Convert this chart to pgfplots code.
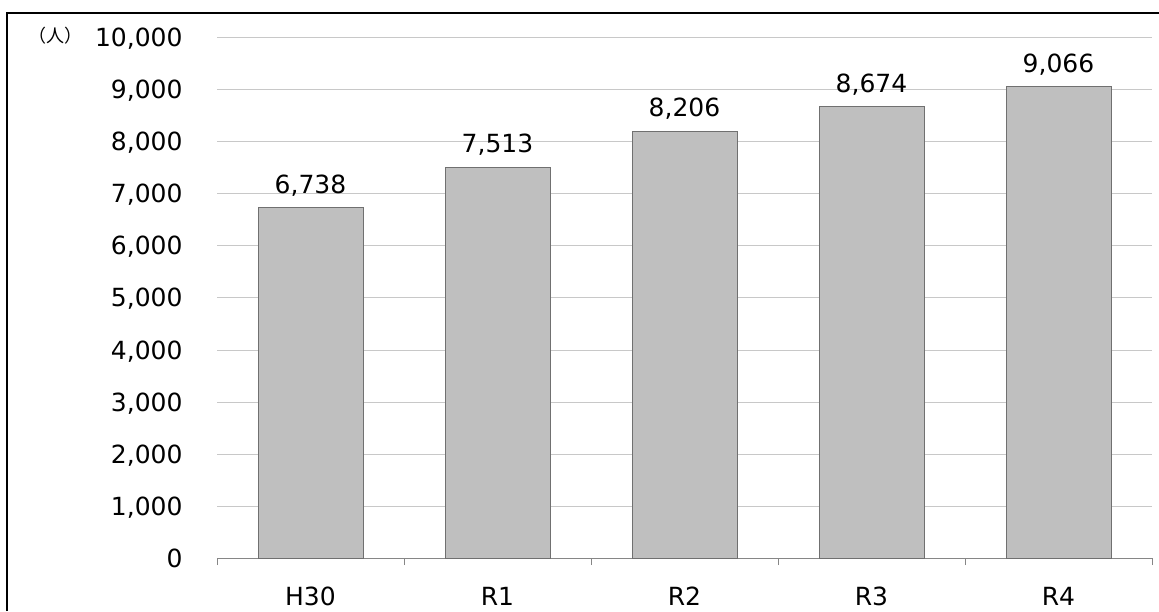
\documentclass[border=0pt]{standalone}
\usepackage{fontspec}
\setmainfont{DejaVu Sans}
\newfontfamily\cjk{Noto Sans CJK JP}
\usepackage{pgfplots}
\pgfplotsset{compat=1.18}

\definecolor{barfill}{HTML}{BFBFBF}
\definecolor{bardraw}{HTML}{707070}
\definecolor{gridc}{HTML}{C8C8C8}
\definecolor{axisc}{HTML}{868686}

\begin{document}
\begin{tikzpicture}[x=1pt,y=1pt]
\useasboundingbox (0,0) rectangle (1159,611);
% frame (top and left edges)
\draw[line width=2pt,black] (7,0) -- (7,598) -- (1159,598);
\node[font=\cjk\fontsize{18}{18}\selectfont,inner sep=0pt] at (55,575) {（人）};

\begin{axis}[
    at={(217pt,53pt)}, anchor=south west,
    scale only axis,
    width=935pt, height=520pt,
    ybar, bar width=105pt,
    xmin=-0.5, xmax=4.5,
    ymin=0, ymax=10000,
    xtick={0,1,2,3,4},
    xticklabels={H30,R1,R2,R3,R4},
    minor xtick={-0.5,0.5,...,4.5},
    major x tick style={draw=none},
    minor tick length=7pt,
    tick align=outside,
    ytick={0,1000,...,10000},
    major y tick style={draw=none},
    scaled y ticks=false,
    ymajorgrids,
    major grid style={gridc, line width=1pt},
    axis x line*=bottom,
    axis y line*=left,
    x axis line style={axisc, line width=1pt, -},
    y axis line style={draw=none},
    minor x tick style={axisc, line width=1pt},
    tick label style={font=\fontsize{25}{29}\selectfont, inner sep=0pt, text height=18pt, text depth=0pt},
    yticklabel style={anchor=east, xshift=-30pt},
    xticklabel style={anchor=north, yshift=-25pt},
    /pgf/number format/assume math mode=true,
    /pgf/number format/1000 sep={,},
    nodes near coords,
    nodes near coords style={font=\fontsize{25}{29}\selectfont, anchor=south, inner sep=0pt, text depth=0pt, yshift=14pt, /pgf/number format/assume math mode=true, /pgf/number format/1000 sep={,}},
]
\addplot[fill=barfill, draw=bardraw, line width=1pt] coordinates {(0,6738) (1,7513) (2,8206) (3,8674) (4,9066)};
\end{axis}
\end{tikzpicture}
\end{document}
